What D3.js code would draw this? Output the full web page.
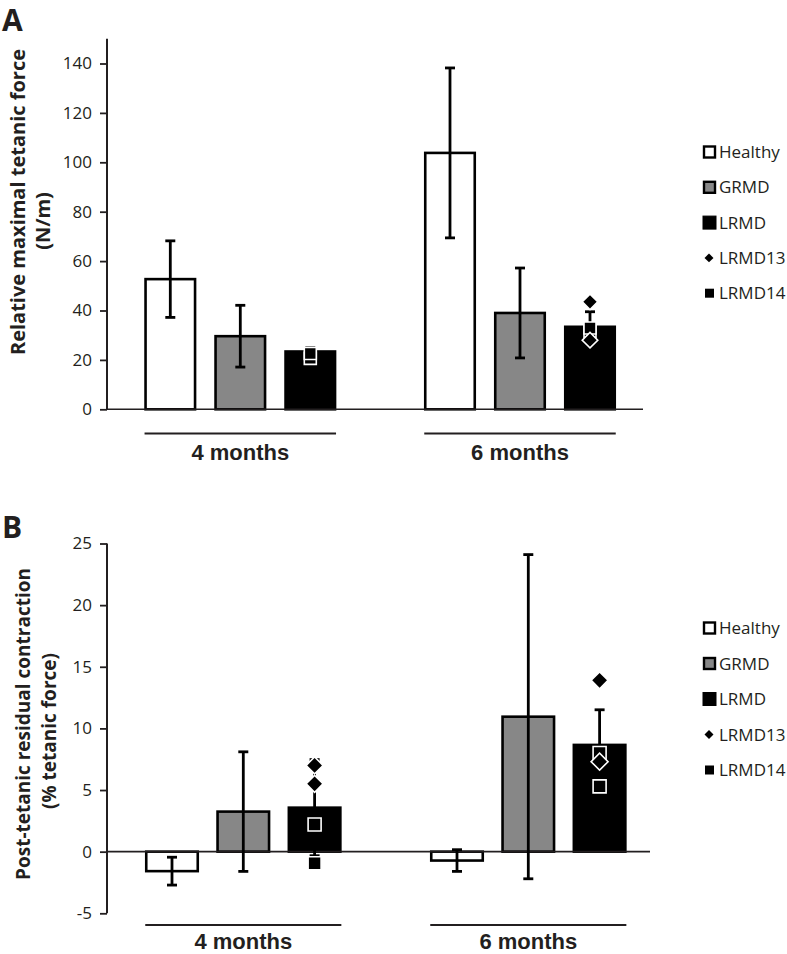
<!DOCTYPE html>
<html><head><meta charset="utf-8">
<script src="https://cdn.jsdelivr.net/npm/d3@7/dist/d3.min.js"></script>
<style>
body{margin:0;background:#fff;}
svg{display:block;}
text{font-family:"Open Sans",sans-serif;fill:#231f20;}
</style></head>
<body>
<svg id="chart" width="787" height="954"></svg>
<script>
// ---------- data ----------
const groups = ["4 months", "6 months"];
const series = ["Healthy", "GRMD", "LRMD"];
const legendLabels = ["Healthy", "GRMD", "LRMD", "LRMD13", "LRMD14"];

// Panel A: relative maximal tetanic force (N/m)
const forceMean = { Healthy: [52.7, 103.8], GRMD: [29.6, 39.0], LRMD: [23.4, 33.4] };
const forceSD   = { Healthy: [15.5, 34.4], GRMD: [12.5, 18.2], LRMD: [1.5, 6.1] };
const forceLRMD13 = [[], [43.5, 28.0]];
const forceLRMD14 = [[20.6, 22.6], [31.6, 32.9]];
const forceTicks = [0, 20, 40, 60, 80, 100, 120, 140];

// Panel B: post-tetanic residual contraction (% tetanic force)
const residMean = { Healthy: [-1.58, -0.72], GRMD: [3.25, 10.95], LRMD: [3.57, 8.66] };
const residSD   = { Healthy: [1.13, 0.88], GRMD: [4.85, 13.15], LRMD: [3.9, 2.85] };
const residLRMD13 = [[7.0, 5.5], [13.9, 7.3]];
const residLRMD14 = [[2.2, -0.94], [8.0, 5.3]];
const residTicks = [-5, 0, 5, 10, 15, 20, 25];

const fills = { Healthy: "#ffffff", GRMD: "#878787", LRMD: "#000000" };

const svg = d3.select("#chart");

function panel(cfg) {
  const g = svg.append("g");
  const y = d3.scaleLinear().domain(cfg.domain).range(cfg.yRange);
  const x0 = d3.scaleBand().domain(groups).range(cfg.xRange).padding(0);
  const x1 = d3.scalePoint().domain(series).range([-cfg.off, cfg.off]);
  const cx = (gi, s) => x0(groups[gi]) + x0.bandwidth() / 2 + x1(s);

  // panel letter
  g.append("text").attr("x", 2).attr("y", cfg.letterY)
    .style("font-size", "30px").style("font-weight", 700).text(cfg.letter);

  // y axis
  const yAxis = d3.axisLeft(y).tickValues(cfg.ticks).tickSize(7).tickPadding(8)
    .tickFormat(d => d < 0 ? "-" + Math.abs(d) : d);
  const ax = g.append("g").attr("transform", `translate(107,0)`).call(yAxis);
  ax.select(".domain").remove();
  ax.selectAll(".tick line").attr("stroke", "#231f20").attr("stroke-width", 1.8);
  ax.selectAll(".tick text").style("font-size", "17px").style("font-family", "'Open Sans',sans-serif").attr("fill", "#231f20");
  g.append("line").attr("x1", 107).attr("x2", 107)
    .attr("y1", y(cfg.domain[1])).attr("y2", y(cfg.domain[0]))
    .attr("stroke", "#231f20").attr("stroke-width", 2);

  // bars
  groups.forEach((grp, gi) => {
    series.forEach(s => {
      const v = cfg.mean[s][gi];
      const c = cx(gi, s);
      const w = cfg.barW;
      g.append("rect")
        .attr("x", c - w / 2).attr("width", w)
        .attr("y", Math.min(y(v), y(0))).attr("height", Math.abs(y(v) - y(0)))
        .attr("fill", fills[s]).attr("stroke", "#000").attr("stroke-width", 2.6);
    });
  });

  // zero line (category axis)
  g.append("line").attr("x1", 107).attr("x2", cfg.axisEnd)
    .attr("y1", y(0)).attr("y2", y(0)).attr("stroke", "#231f20").attr("stroke-width", 1.6);

  // error bars
  groups.forEach((grp, gi) => {
    series.forEach(s => {
      const v = cfg.mean[s][gi], e = cfg.sd[s][gi];
      const c = cx(gi, s);
      const eb = g.append("g").attr("stroke", "#000").attr("stroke-width", 2.8);
      eb.append("line").attr("x1", c).attr("x2", c).attr("y1", y(v - e)).attr("y2", y(v + e));
      [v - e, v + e].forEach(t => eb.append("line")
        .attr("x1", c - 5).attr("x2", c + 5).attr("y1", y(t)).attr("y2", y(t)));
    });
  });

  // individual points: LRMD14 squares then LRMD13 diamonds
  groups.forEach((grp, gi) => {
    const c = cx(gi, "LRMD");
    cfg.p14[gi].forEach(v => {
      g.append("path").attr("transform", `translate(${c},${y(v)})`)
        .attr("d", d3.symbol(d3.symbolSquare, cfg.sq * cfg.sq)())
        .attr("fill", "#000").attr("stroke", "#fff").attr("stroke-width", 1.6);
    });
    cfg.p13[gi].forEach(v => {
      g.append("path").attr("transform", `translate(${c},${y(v)}) rotate(45)`)
        .attr("d", d3.symbol(d3.symbolSquare, cfg.dm * cfg.dm)())
        .attr("fill", "#000").attr("stroke", "#fff").attr("stroke-width", 1.6);
    });
  });

  // group brackets + labels
  groups.forEach((grp, gi) => {
    const left = cx(gi, "Healthy") - cfg.barW / 2 - 1;
    const right = cx(gi, "LRMD") + cfg.barW / 2 + 1;
    g.append("line").attr("x1", left).attr("x2", right)
      .attr("y1", cfg.bracketY).attr("y2", cfg.bracketY)
      .attr("stroke", "#231f20").attr("stroke-width", 2);
    g.append("text").attr("x", (left + right) / 2).attr("y", cfg.labelY)
      .attr("text-anchor", "middle")
      .style("font-family", "'Liberation Sans',Arial,sans-serif")
      .style("font-size", "22px").style("font-weight", 700).text(grp);
  });

  // y axis title
  cfg.title.forEach((t, i) => {
    g.append("text")
      .attr("transform", `translate(${t.x},${t.y}) rotate(-90)`)
      .attr("text-anchor", "middle")
      .style("font-size", t.size + "px").style("font-weight", 700).text(t.text);
  });

  // legend
  const lg = g.append("g");
  legendLabels.forEach((lab, i) => {
    const ly = cfg.legendY + i * cfg.legendStep;
    if (i < 3) {
      const s = i === 2 ? 13 : 11;
      lg.append("rect").attr("x", 709.5 - s / 2).attr("y", ly - s / 2)
        .attr("width", s).attr("height", s)
        .attr("fill", fills[lab]).attr("stroke", "#000").attr("stroke-width", i === 2 ? 1 : 2.4);
    } else if (lab === "LRMD13") {
      lg.append("path").attr("transform", `translate(709,${ly}) rotate(45)`)
        .attr("d", d3.symbol(d3.symbolSquare, 40)()).attr("fill", "#000");
    } else {
      lg.append("rect").attr("x", 705).attr("y", ly - 4.5).attr("width", 9).attr("height", 9).attr("fill", "#000");
    }
    lg.append("text").attr("x", 719).attr("y", ly).attr("dy", "0.36em")
      .style("font-size", "17px").text(lab);
  });
}

panel({
  letter: "A", letterY: 31,
  domain: [0, 150], yRange: [409.3, 38.8], ticks: forceTicks,
  xRange: [100.45, 659.85], off: 70, barW: 49.5, axisEnd: 643,
  mean: forceMean, sd: forceSD, p13: forceLRMD13, p14: forceLRMD14,
  sq: 12, dm: 11,
  bracketY: 433.5, labelY: 460,
  title: [
    { text: "Relative maximal tetanic force", x: 25, y: 202, size: 20 },
    { text: "(N/m)", x: 50, y: 221, size: 20 }
  ],
  legendY: 152, legendStep: 35.3
});

panel({
  letter: "B", letterY: 538,
  domain: [-5, 25], yRange: [913.3, 543.5], ticks: residTicks,
  xRange: [100.8, 670.8], off: 71.3, barW: 51.5, axisEnd: 650,
  mean: residMean, sd: residSD, p13: residLRMD13, p14: residLRMD14,
  sq: 13, dm: 12,
  bracketY: 925, labelY: 949,
  title: [
    { text: "Post-tetanic residual contraction", x: 30, y: 724, size: 19 },
    { text: "(% tetanic force)", x: 56, y: 731, size: 19 }
  ],
  legendY: 628, legendStep: 35.5
});
</script>
</body></html>
